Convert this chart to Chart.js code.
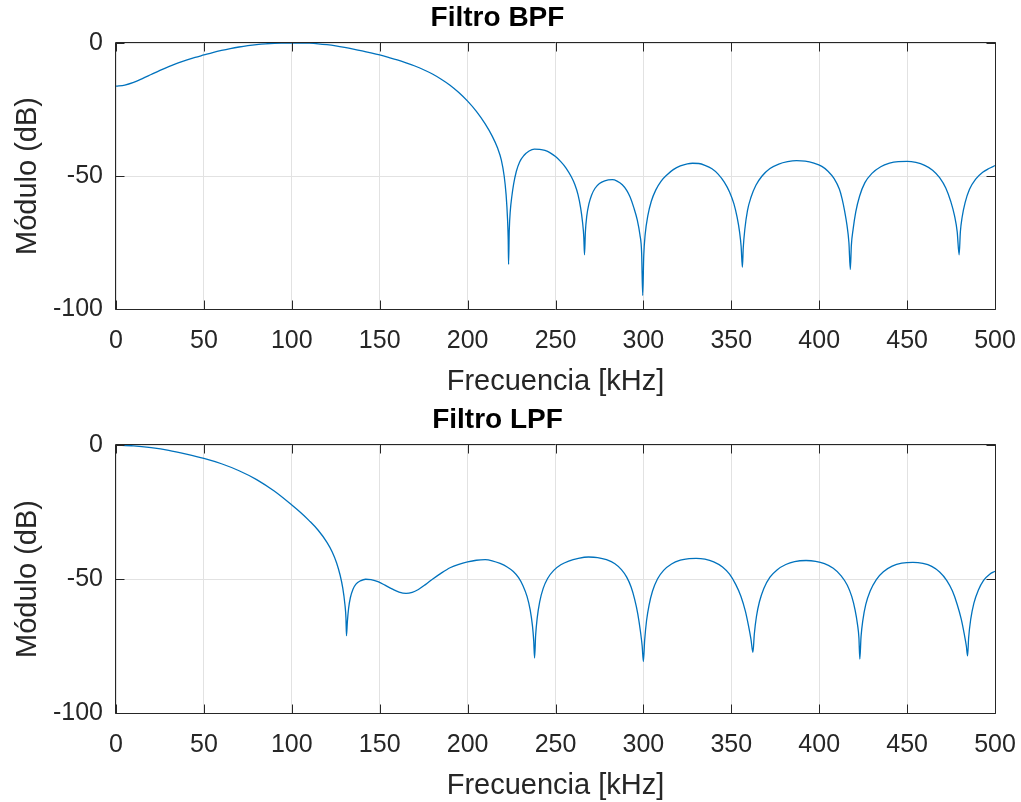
<!DOCTYPE html>
<html><head><meta charset="utf-8">
<script src="https://cdn.jsdelivr.net/npm/chart.js@4.4.1/dist/chart.umd.min.js"></script>
<style>
html,body{margin:0;padding:0;background:#fff;overflow:hidden}
canvas{display:block}
</style></head><body>
<canvas id="c1" width="1021" height="403"></canvas>
<canvas id="c2" width="1021" height="399"></canvas>
<script>
// ---- data ----
const xTickValues = [0, 50, 100, 150, 200, 250, 300, 350, 400, 450, 500];
const yTickValues = [-100, -50, 0];
const titles = ['Filtro BPF', 'Filtro LPF'];
const xLabel = 'Frecuencia [kHz]';
const yLabel = 'Módulo (dB)';

const bpfFreq = [0,5,10,15,20,25,30,35,40,45,50,55,60,65,70,75,80,85,90,95,100,105,110,115,120,125,130,135,140,145,150,155,160,165,170,175,180,185,190,195,200,205,210,214,217,219.2,220.8,221.9,222.7,223.1,223.3,
  223.7,224.3,225.1,226.2,227.7,229.6,232,235,238,241,244,247,250,253,256,259,261,262.8,264.3,265.4,266.1,266.5,
  267,267.8,269,270.5,272.5,275,278,282.3,285,288,290.5,292.5,294.5,296.5,298,299,299.6,
  300.2,301,302.5,304.5,307,310,313.5,317,321,325,328,331.5,335,339,342.5,346,349,351.5,353.3,354.7,355.6,356.3,
  356.8,357.7,359.2,361.2,364,367.5,372,377,382,387.1,392,397,401.5,405,408.5,411.5,413,414.5,415.8,416.9,417.7,
  418.3,419.3,420.8,423,426,430,435,440,445,450,455,460,464.5,468.5,472,474.8,477,478.5,479.6,
  480.3,481.3,483,485.5,489,493,496.5,500];
const bpfDb = [-16.2,-15.8,-14.8,-13.4,-11.85,-10.3,-8.85,-7.55,-6.4,-5.4,-4.5,-3.6,-2.8,-2.1,-1.5,-1.0,-0.6,-0.3,-0.1,-0.03,0,0,-0.08,-0.3,-0.65,-1.1,-1.65,-2.27,-2.95,-3.7,-4.5,-5.4,-6.35,-7.45,-8.65,-10.05,-11.65,-13.6,-15.85,-18.6,-21.85,-25.7,-30.4,-35.0,-39.4,-44,-50,-57,-66,-74,-83.2,
  -70.5,-63,-58,-53,-48.3,-44.7,-42.3,-40.6,-39.9,-40,-40.4,-41.3,-42.7,-44.6,-47,-50.3,-53.2,-57,-62,-67.5,-73,-79.6,
  -71,-65,-60.5,-57.2,-54.6,-52.8,-51.8,-51.4,-51.9,-53.3,-55.4,-58,-61.8,-66.5,-72,-79,-94.9,
  -80,-72,-65,-59.5,-55.3,-52,-49.5,-47.6,-46.2,-45.4,-45.2,-45.3,-46,-47.3,-49.3,-52.3,-56,-60.5,-65.5,-71,-76.5,-84.3,
  -77,-70,-63,-58,-53.5,-50,-47.2,-45.5,-44.6,-44.2,-44.4,-45.2,-46.4,-48.2,-51,-55,-58.5,-63.3,-68.5,-75,-85.2,
  -76,-70,-63.5,-57.5,-52.5,-49,-46.5,-45.2,-44.6,-44.5,-44.9,-46,-47.8,-50.6,-54.5,-59.5,-65,-71,-79.6,
  -71,-65.5,-60,-55,-51.2,-48.6,-47.2,-46.1];

const lpfFreq = [0,10,20,30,40,50,60,70,80,90,100,105,110,115,120,123,125.5,127.5,129,130.2,130.8,131.1,
  131.6,132.3,133.3,134.8,136.5,139,142,145,149,153,157,161,165,168.5,172,176,180,185,190,195,200,205,210,214,218.5,222.5,226,229,231.5,233.8,235.6,236.9,237.6,238.1,
  238.7,239.6,241,243,245.5,249,253,257.5,263,268.8,274,279,283.8,287.5,290.5,293,295,296.8,298.3,299.3,300,
  300.7,301.8,303.2,305.2,308,311.5,316,321,326,330,335,340,345,349,352.5,355.5,358,359.8,361.2,362.3,
  363.1,364.3,366,368.5,372,376,381,386,392.5,398,403,408,412.5,416,418.5,420.4,421.8,422.6,423.1,
  423.8,424.8,426.5,429,432.5,436.5,441.5,447,453.3,459,464,468.5,472.5,475.8,478.5,480.8,482.5,483.7,484.4,
  485,486.2,488,490.5,493.5,497,500];
const lpfDb = [0,-0.3,-1.0,-2.0,-3.4,-5.0,-7.0,-9.6,-12.9,-17.2,-22.4,-25.2,-28.3,-31.8,-36.3,-39.9,-44.0,-48.6,-53.4,-59.4,-64.5,-71.2,
  -66,-61,-57,-53.8,-51.9,-50.7,-50.1,-50.2,-51,-52.3,-53.7,-54.9,-55.4,-55,-53.9,-52.1,-50.1,-47.8,-45.8,-44.5,-43.6,-43.0,-42.8,-43.2,-44.2,-45.5,-47.2,-49.5,-52.5,-56.5,-61.5,-67.5,-73,-79.5,
  -71,-64.5,-58.5,-53.5,-49.8,-46.8,-44.7,-43.3,-42.3,-41.8,-42,-42.8,-44.3,-46.5,-49.3,-53,-57.5,-63,-69.5,-75,-80.8,
  -73,-65.5,-59.8,-54.5,-50,-46.8,-44.4,-43,-42.4,-42.3,-42.6,-43.6,-45.5,-48.2,-52,-56.5,-62,-67.5,-72.5,-77.4,
  -70.5,-64,-58.5,-53.5,-49.3,-46.6,-44.6,-43.5,-43.1,-43.4,-44.3,-46,-48.8,-52.3,-56.5,-61.5,-67,-72,-79.9,
  -71.5,-65.5,-59.5,-54.5,-50.2,-47.3,-45.2,-44.1,-43.8,-44.2,-45.3,-47.4,-50.5,-54.5,-59.5,-65,-70.5,-75,-78.7,
  -72,-65,-59,-54.2,-50.5,-48.2,-47.1];

// ---- drawing ----
const TXT = '#262626';
const FONT = "'Liberation Sans', Arial, Helvetica, sans-serif";

const boxPlugin = {
  id: 'matlabBox',
  afterDatasetsDraw(chart) {
    const {ctx, chartArea: a, scales: {x, y}} = chart;
    const L = a.left - 0.5, R = a.right + 0.5, T = a.top - 0.5, B = a.bottom + 0.5;
    const len = 9;
    ctx.save();
    ctx.strokeStyle = TXT;
    ctx.lineWidth = 1;
    ctx.beginPath();
    ctx.rect(L, T, R - L, B - T);
    x.ticks.forEach(t => {
      const px = Math.round(x.getPixelForValue(t.value)) + 0.5;
      ctx.moveTo(px, B); ctx.lineTo(px, B - len);
      ctx.moveTo(px, T); ctx.lineTo(px, T + len);
    });
    y.ticks.forEach(t => {
      const py = Math.round(y.getPixelForValue(t.value)) + 0.5;
      ctx.moveTo(L, py); ctx.lineTo(L + len, py);
      ctx.moveTo(R, py); ctx.lineTo(R - len, py);
    });
    ctx.stroke();
    ctx.restore();
  }
};

function makeChart(id, title, freq, db, cfg) {
  const data = freq.map((f, i) => ({x: f, y: db[i]}));
  return new Chart(document.getElementById(id), {
    type: 'line',
    data: {datasets: [{
      data,
      borderColor: '#0072BD',
      borderWidth: 1.3,
      pointRadius: 0,
      fill: false,
      cubicInterpolationMode: 'monotone'
    }]},
    options: {
      responsive: false,
      animation: false,
      devicePixelRatio: 1,
      layout: {padding: {left: 0, right: 26, top: 0, bottom: 0}},
      plugins: {
        legend: {display: false},
        tooltip: {enabled: false},
        title: {
          display: true, text: title, color: '#000',
          font: {family: FONT, size: 28, weight: 'bold', lineHeight: 1},
          padding: {top: cfg.titleTop, bottom: cfg.titleBottom}
        }
      },
      scales: {
        x: {
          type: 'linear', min: 0, max: 500,
          afterBuildTicks: s => { s.ticks = xTickValues.map(v => ({value: v})); },
          afterFit: s => { s.height = cfg.xHeight; s.paddingLeft = 0; s.paddingRight = 0; },
          grid: {color: '#e2e2e2', lineWidth: 1, drawTicks: false},
          border: {display: false},
          ticks: {color: TXT, padding: 20, maxRotation: 0, autoSkip: false,
                  font: {family: FONT, size: 25, lineHeight: 1}},
          title: {display: true, text: xLabel, color: TXT,
                  font: {family: FONT, size: 29, lineHeight: 1},
                  padding: {top: 0, bottom: cfg.xTitleBottom}}
        },
        y: {
          type: 'linear', min: -100, max: 0,
          afterBuildTicks: s => { s.ticks = yTickValues.map(v => ({value: v})); },
          afterFit: s => { s.width = 116; },
          grid: {color: '#e2e2e2', lineWidth: 1, drawTicks: false},
          border: {display: false},
          ticks: {color: TXT, padding: 13, autoSkip: false,
                  font: {family: FONT, size: 25, lineHeight: 1}},
          title: {display: true, text: yLabel, color: TXT,
                  font: {family: FONT, size: 29, lineHeight: 1},
                  padding: {top: 13, bottom: 0}}
        }
      }
    },
    plugins: [boxPlugin]
  });
}

makeChart('c1', titles[0], bpfFreq, bpfDb, {titleTop: 4, titleBottom: 11, xHeight: 94, xTitleBottom: 7});
makeChart('c2', titles[1], lpfFreq, lpfDb, {titleTop: 3, titleBottom: 11, xHeight: 89, xTitleBottom: 2});
</script>
</body></html>
